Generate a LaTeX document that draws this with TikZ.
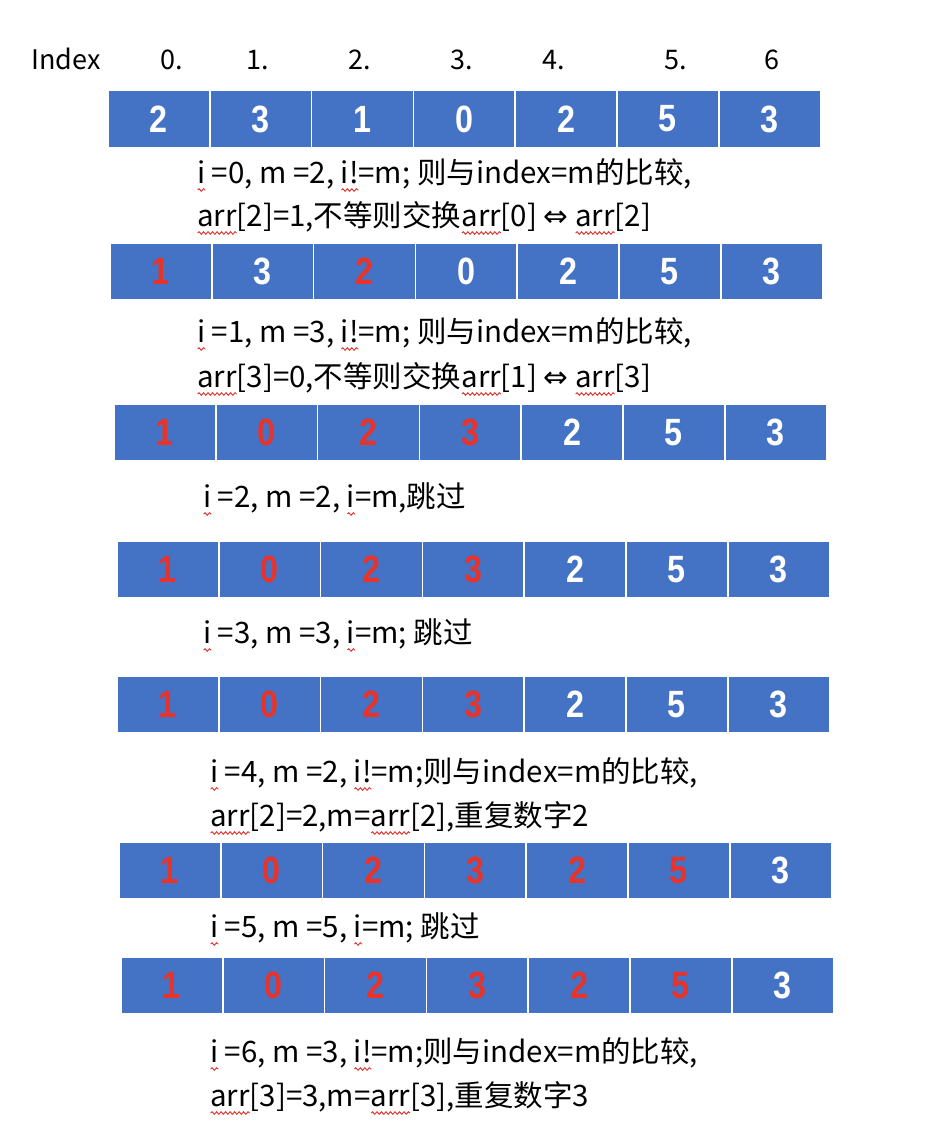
\documentclass[tikz,border=0pt]{standalone}
\usepackage{fontspec}
\usetikzlibrary{decorations.pathmorphing}
\newfontfamily\cjk{Noto Sans CJK SC}
\newfontfamily\cellfont[FakeStretch=0.85]{Liberation Sans}
\newfontfamily\symfont{DejaVu Sans}
\definecolor{cellblue}{HTML}{4472C4}
\definecolor{cellred}{HTML}{E8332A}
\definecolor{wavered}{HTML}{E0302A}
\newlength\rwlen
\newcommand\rw[1]{\settowidth\rwlen{#1}\rlap{\tikz[baseline=0pt,x=1pt,y=1pt]\draw[wavered,line width=0.9pt,decorate,decoration={snake,amplitude=1.3pt,segment length=4.5pt}] (0.5,-7) -- (\rwlen,-7);}#1}
\newcommand\cw{101.8}
\newcommand\arrrow[4]{%
  \foreach \v/\c [count=\k] in {#4} {
    \node[cell, text=\c] (#1-\k) at ({#2+(\k-0.5)*\cw}, {#3}) {\v};
  }%
}
\begin{document}
\begin{tikzpicture}[x=1pt,y=-1pt,
  cell/.style={draw=white, line width=1.5pt, fill=cellblue, minimum width=101.8pt,
    minimum height=57pt, inner sep=0pt, font=\cellfont\bfseries\fontsize{38}{38}\selectfont},
  note/.style={anchor=base west, inner sep=0pt, font=\cjk\fontsize{29.5}{29.5}\selectfont},
  idx/.style={anchor=base, inner sep=0pt, font=\cjk\fontsize{27}{27}\selectfont}]
\useasboundingbox (0,0) rectangle (938,1142);
\fill[white] (0,0) rectangle (938,1142);
% index row
\node[idx, anchor=base west] (ix) at (31,70) {Index};
\node[idx] (i0) at (172,70) {0.};
\node[idx] (i1) at (258,70) {1.};
\node[idx] (i2) at (360,70) {2.};
\node[idx] (i3) at (462,70) {3.};
\node[idx] (i4) at (554,70) {4.};
\node[idx] (i5) at (676,70) {5.};
\node[idx] (i6) at (772,70) {6};
% arrays
\arrrow{a}{108}{119}{2/white,3/white,1/white,0/white,2/white,5/white,3/white}
\arrrow{b}{110}{271.5}{1/cellred,3/white,2/cellred,0/white,2/white,5/white,3/white}
\arrrow{c}{114}{432.5}{1/cellred,0/cellred,2/cellred,3/cellred,2/white,5/white,3/white}
\arrrow{d}{117}{569.5}{1/cellred,0/cellred,2/cellred,3/cellred,2/white,5/white,3/white}
\arrrow{e}{117}{704.5}{1/cellred,0/cellred,2/cellred,3/cellred,2/white,5/white,3/white}
\arrrow{f}{119}{870.5}{1/cellred,0/cellred,2/cellred,3/cellred,2/cellred,5/cellred,3/white}
\arrrow{g}{121}{985.5}{1/cellred,0/cellred,2/cellred,3/cellred,2/cellred,5/cellred,3/white}
% notes
\node[note] (n1) at (197,183) {\rw{i} =0, m =2, \rw{i!}=m; 则与index=m的比较,};
\node[note] (n2) at (197,226) {\rw{arr}[2]=1,不等则交换\rw{arr}[0] {\symfont ⇔} \rw{arr}[2]};
\node[note] (n3) at (197,342) {\rw{i} =1, m =3, \rw{i!}=m; 则与index=m的比较,};
\node[note] (n4) at (197,387) {\rw{arr}[3]=0,不等则交换\rw{arr}[1] {\symfont ⇔} \rw{arr}[3]};
\node[note] (n5) at (203,507) {\rw{i} =2, m =2, \rw{i}=m,跳过};
\node[note] (n6) at (203,643) {\rw{i} =3, m =3, \rw{i}=m; 跳过};
\node[note] (n7) at (210,782) {\rw{i} =4, m =2, \rw{i!}=m;则与index=m的比较,};
\node[note] (n8) at (210,826) {\rw{arr}[2]=2,m=\rw{arr}[2],重复数字2};
\node[note] (n9) at (210,937) {\rw{i} =5, m =5, \rw{i}=m; 跳过};
\node[note] (n10) at (210,1062) {\rw{i} =6, m =3, \rw{i!}=m;则与index=m的比较,};
\node[note] (n11) at (210,1106) {\rw{arr}[3]=3,m=\rw{arr}[3],重复数字3};
\end{tikzpicture}
\end{document}
